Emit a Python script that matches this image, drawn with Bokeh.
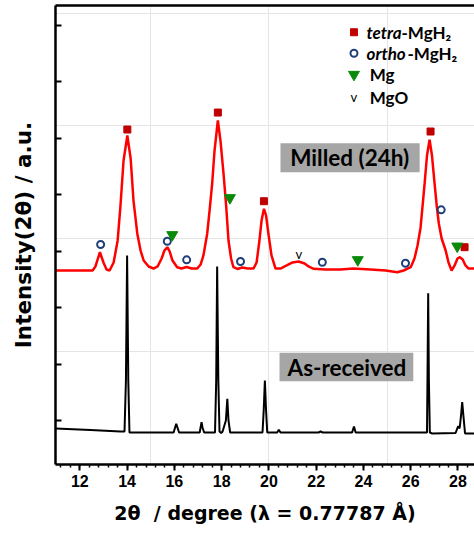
from bokeh.plotting import figure
from bokeh.models import (Range1d, LinearAxis, FixedTicker, Label, BoxAnnotation,
                          CustomJSTickFormatter)
from bokeh.core.properties import value
from bokeh.embed import file_html
from bokeh.resources import INLINE

# ---------------- data ----------------
# Milled (24h) pattern (2theta in degree, intensity in a.u.)
red_x = [10.97, 12.54, 12.66, 12.85, 13.00, 13.13, 13.26, 13.43, 13.60, 13.72, 13.85, 14.01, 14.15, 14.27,
         14.43, 14.57, 14.70, 14.91, 15.12, 15.29, 15.46, 15.58, 15.70, 15.80, 15.92, 16.12, 16.30, 16.52,
         16.73, 16.97, 17.11, 17.23, 17.39, 17.49, 17.60, 17.70, 17.84, 17.95, 18.08, 18.19, 18.29, 18.40,
         18.50, 18.67, 18.87, 19.10, 19.35, 19.48, 19.60, 19.69, 19.79, 19.88, 19.99, 20.11, 20.28, 20.49,
         20.75, 21.00, 21.26, 21.51, 21.68, 21.89, 22.40, 23.03, 23.58, 24.30, 24.94, 25.43, 25.70, 26.00,
         26.16, 26.29, 26.42, 26.59, 26.69, 26.80, 26.90, 27.01, 27.10, 27.19, 27.31, 27.48, 27.60, 27.73,
         27.86, 27.98, 28.08, 28.20, 28.32, 28.45, 28.70]
red_y = [3438, 3438, 3509, 3762, 3580, 3456, 3438, 3580, 3970, 4590, 5387, 5830, 5423, 4678,
         4094, 3792, 3615, 3509, 3473, 3509, 3651, 3792, 3851, 3775, 3615, 3496, 3473, 3500,
         3473, 3473, 3544, 3704, 4094, 4501, 4980, 5564, 6096, 5742, 5157, 4590, 3970, 3651,
         3496, 3465, 3491, 3473, 3473, 3580, 3970, 4324, 4531, 4413, 4058, 3704, 3473, 3473,
         3527, 3580, 3597, 3562, 3509, 3468, 3456, 3456, 3473, 3456, 3438, 3408, 3438, 3496,
         3651, 3881, 4205, 4980, 5476, 5754, 5476, 4980, 4590, 4271, 4005, 3792, 3580, 3438,
         3527, 3651, 3674, 3633, 3527, 3473, 3473]

# As-received pattern
black_x = [10.97, 12.45, 13.72, 13.89, 13.95, 14.00, 14.05, 14.10, 15.97, 16.03, 16.08, 16.13, 16.20,
           17.07, 17.11, 17.15, 17.19, 17.26, 17.72, 17.77, 17.81, 17.86, 17.91, 17.98, 18.04, 18.18,
           18.24, 18.29, 18.36, 19.73, 19.78, 19.83, 19.88, 19.93, 20.35, 20.42, 20.49, 22.10, 22.19,
           22.27, 23.52, 23.60, 23.67, 26.69, 26.71, 26.74, 26.77, 26.81, 26.91, 27.90, 27.97, 28.01,
           28.07, 28.13, 28.18, 28.23, 28.30, 28.70]
black_y = [638, 611, 585, 585, 1488, 3703, 1488, 567, 567, 656, 721, 656, 567,
           567, 656, 750, 656, 567, 567, 1488, 3509, 1488, 585, 558, 585, 780,
           1164, 780, 567, 567, 957, 1488, 957, 567, 567, 615, 567, 567, 585,
           567, 567, 673, 567, 567, 1488, 3035, 1488, 567, 549, 558, 638, 682,
           638, 868, 1104, 868, 549, 549]

# phase markers
tetra_x = [14.01, 17.84, 19.79, 26.84, 28.28]
tetra_y = [5936, 6237, 4666, 5901, 3851]
ortho_x = [12.88, 15.70, 16.52, 18.80, 22.26, 25.78, 27.29]
ortho_y = [3898, 3957, 3627, 3597, 3585, 3567, 4513]
mg_x = [15.91, 18.35, 23.76, 27.97]
mg_y = [4070, 4726, 3627, 3868]
mgo_x = [21.27]
mgo_y = [3734]

x_ticks = [12, 14, 16, 18, 20, 22, 24, 26, 28]
x_minor = [round(11.2 + 0.4 * i, 1) for i in range(44)]
y_ticks = [780, 1780, 2780, 3780, 4780, 5780, 6780, 7780]

legend_y = [7660, 7288, 6911, 6509]

# ---------------- figure ----------------
p = figure(width=474, height=534, x_range=Range1d(10.97, 28.70), y_range=Range1d(0, 8134),
           output_backend="svg", toolbar_location=None,
           x_axis_location=None, y_axis_location=None,
           min_border_left=55, min_border_right=0, min_border_top=5, min_border_bottom=70)
p.outline_line_color = None
p.background_fill_color = "white"
p.border_fill_color = "white"

FONT = "Liberation Sans"
TFONT = "DejaVu Sans"
empty = CustomJSTickFormatter(code="return ''")

xaxis = LinearAxis(ticker=FixedTicker(ticks=x_ticks, minor_ticks=x_minor))
xaxis.axis_line_width = 2.5
xaxis.major_tick_line_width = 2
xaxis.minor_tick_line_width = 1.5
xaxis.major_tick_in = 0
xaxis.major_tick_out = 6
xaxis.minor_tick_in = 0
xaxis.minor_tick_out = 3
xaxis.major_label_text_font = FONT
xaxis.major_label_text_font_style = "bold"
xaxis.major_label_text_font_size = "16px"
xaxis.major_label_text_color = "black"
xaxis.major_label_standoff = 4
xaxis.axis_label = "2\u03b8\u00a0\u00a0/ degree (\u03bb = 0.77787 \u00c5)"
xaxis.axis_label_text_font = TFONT
xaxis.axis_label_text_font_style = "bold"
xaxis.axis_label_text_font_size = "19px"
xaxis.axis_label_text_color = "black"
xaxis.axis_label_standoff = 12
p.add_layout(xaxis, "below")

yaxis = LinearAxis(ticker=FixedTicker(ticks=y_ticks), formatter=empty)
yaxis.axis_line_width = 2.5
yaxis.major_tick_line_width = 2
yaxis.major_tick_in = 6
yaxis.major_tick_out = 0
yaxis.minor_tick_line_color = None
yaxis.major_label_standoff = 0
yaxis.axis_label = "Intensity(2\u03b8) / a.u."
yaxis.axis_label_text_font = TFONT
yaxis.axis_label_text_font_style = "bold"
yaxis.axis_label_text_font_size = "21.5px"
yaxis.axis_label_text_color = "black"
yaxis.axis_label_standoff = 20
p.add_layout(yaxis, "left")

top = LinearAxis(ticker=FixedTicker(ticks=[]), formatter=empty)
top.axis_line_width = 2.5
top.major_tick_line_color = None
top.minor_tick_line_color = None
top.major_label_standoff = 0
p.add_layout(top, "above")

# curves
p.line(black_x, black_y, line_color="black", line_width=2)
p.line(red_x, red_y, line_color="#FF0000", line_width=2.5)

# phase markers
p.scatter(tetra_x, tetra_y, marker="square", size=7, fill_color="#C00000", line_color="#C00000")
p.scatter(ortho_x, ortho_y, marker="circle", size=7, fill_color="white", line_color="#1F3F78", line_width=2)
p.scatter(mg_x, mg_y, marker="inverted_triangle", size=11, fill_color="#0A8A0A", line_color="#0A8A0A")
p.text(mgo_x, mgo_y, text=["v"], text_font=value("Lato"), text_font_size="13px",
       text_align="center", text_baseline="middle", text_color="black")

# legend (manual)
lx = 23.60
p.scatter([lx], [legend_y[0]], marker="square", size=7, fill_color="#C00000", line_color="#C00000")
p.scatter([lx], [legend_y[1]], marker="circle", size=7, fill_color="white", line_color="#1F3F78", line_width=2)
p.scatter([lx], [legend_y[2]], marker="inverted_triangle", size=11, fill_color="#0A8A0A", line_color="#0A8A0A")
p.text([lx], [legend_y[3]], text=["v"], text_font=value("Lato"), text_font_size="13px",
       text_align="center", text_baseline="middle", text_color="black")

LF = "Lato"
def lab(x, y, t, style="bold", xoff=0, size="17px"):
    p.add_layout(Label(x=x, y=y, text=t, text_font=LF, text_font_style=style, text_font_size=size,
                       text_baseline="middle", text_align="left", text_color="black", x_offset=xoff))

tx = 24.13
lab(tx, legend_y[0], "tetra", "bold italic")
lab(tx, legend_y[0], "-MgH\u2082", "bold", 35)
lab(tx, legend_y[1], "ortho", "bold italic")
lab(tx, legend_y[1], "-MgH\u2082", "bold", 41)
lab(24.27, legend_y[2], "Mg")
lab(24.27, legend_y[3], "MgO")

# sample labels with grey boxes
p.add_layout(BoxAnnotation(left=20.49, right=26.38, bottom=5180, top=5693,
                           fill_color="#A6A6A6", fill_alpha=1, line_color=None))
p.add_layout(Label(x=23.42, y=5435, text="Milled (24h)", text_font=LF, text_font_style="bold",
                   text_font_size="22.5px", text_align="center", text_baseline="middle", text_color="black"))
p.add_layout(BoxAnnotation(left=20.45, right=26.11, bottom=1476, top=1979,
                           fill_color="#A6A6A6", fill_alpha=1, line_color=None))
p.add_layout(Label(x=23.30, y=1724, text="As-received", text_font=LF, text_font_style="bold",
                   text_font_size="22.5px", text_align="center", text_baseline="middle", text_color="black"))

open("out.html", "w").write(file_html(p, INLINE))
